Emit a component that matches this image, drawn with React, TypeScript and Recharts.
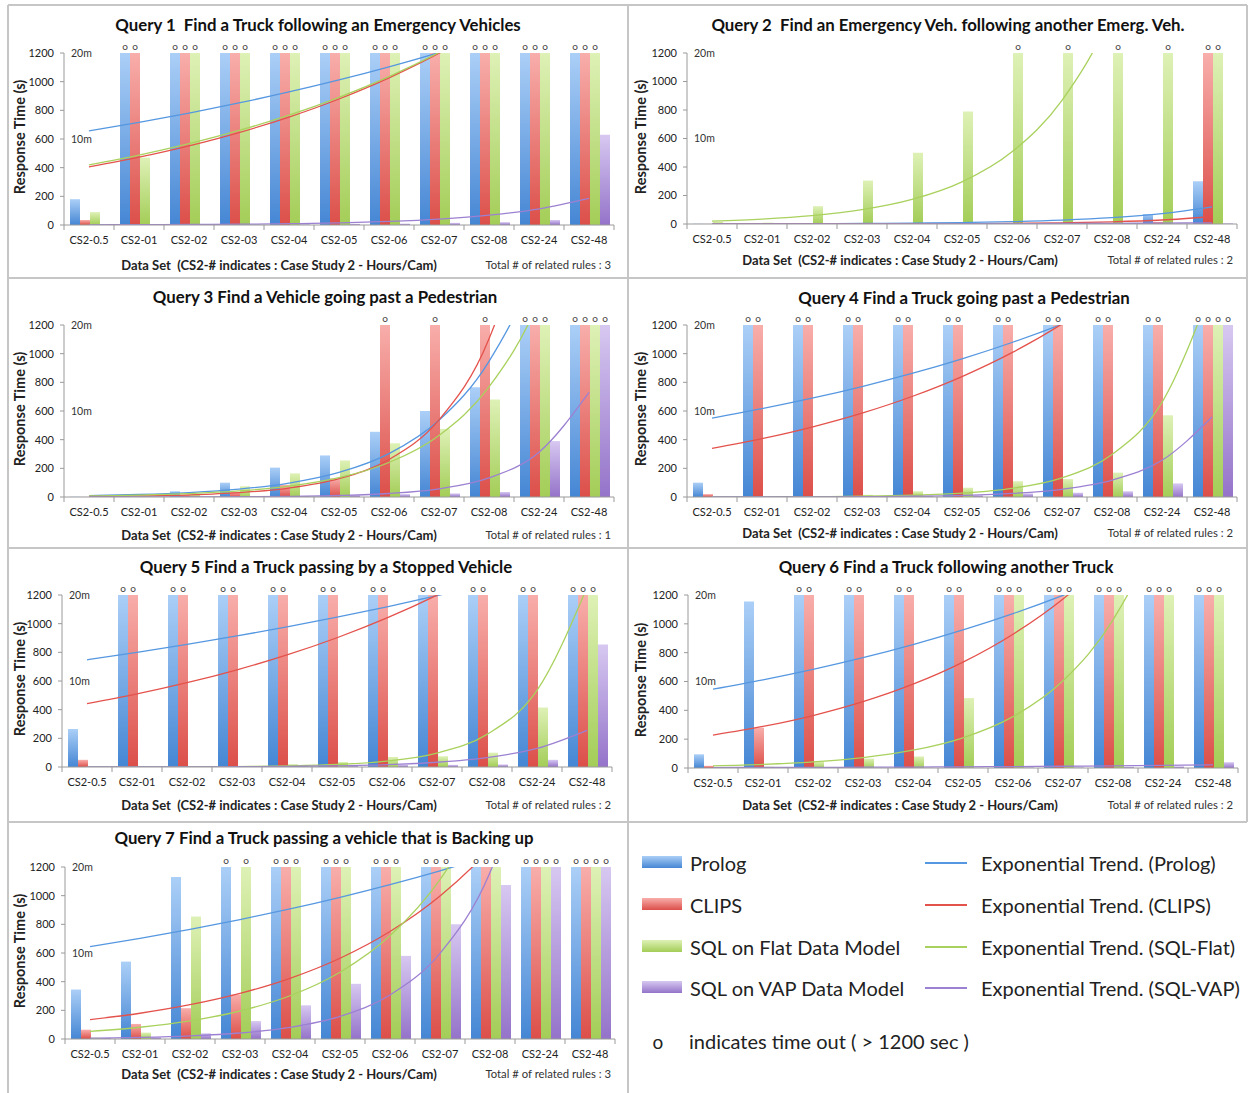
import React from 'react';
import { ComposedChart, Bar, Line, XAxis, YAxis, ReferenceLine, LabelList } from 'recharts';

const FONT = 'Lato, "Open Sans", "DejaVu Sans", sans-serif';
const AXIS = '#9a9a9a';
const TEXT = '#222';

// ---------- data ----------
const CATEGORIES = ['CS2-0.5', 'CS2-01', 'CS2-02', 'CS2-03', 'CS2-04', 'CS2-05', 'CS2-06', 'CS2-07', 'CS2-08', 'CS2-24', 'CS2-48'];
const Y_TICKS = [0, 200, 400, 600, 800, 1000, 1200];
// Runs that hit the time out are plotted at the 1200 s cap and marked with "o".
const T = 1200;

const Q1_PROLOG = [180, T, T, T, T, T, T, T, T, T, T];
const Q1_CLIPS = [35, T, T, T, T, T, T, T, T, T, T];
const Q1_FLAT = [90, 470, T, T, T, T, T, T, T, T, T];
const Q1_VAP = [5, 4, 4, 4, 5, 8, 10, 15, 20, 35, 630];
// Exponential trend: fitted value at CS2-0.5 and at CS2-48 (Prolog, CLIPS, SQL-Flat, SQL-VAP)
const Q1_TREND_START = [657, 405, 420, 1.25];
const Q1_TREND_END = [1559, 1908, 1890, 186];

const Q2_PROLOG = [2, 2, 2, 2, 3, 3, 5, 8, 10, 70, 300];
const Q2_CLIPS = [1, 1, 1, 2, 2, 2, 3, 5, 8, 15, T];
const Q2_FLAT = [15, 10, 125, 305, 500, 790, T, T, T, T, T];
const Q2_VAP = [1, 1, 1, 1, 1, 2, 2, 2, 3, 3, 5];
const Q2_TREND_START = [0.8, 0.13, 20, 0.5];
const Q2_TREND_END = [120, 51, 4370, 8];

const Q3_PROLOG = [2, 8, 40, 100, 205, 290, 455, 600, 765, T, T];
const Q3_CLIPS = [1, 4, 15, 35, 85, 130, T, T, T, T, T];
const Q3_FLAT = [2, 5, 20, 75, 165, 255, 375, 475, 680, T, T];
const Q3_VAP = [1, 2, 3, 5, 8, 12, 20, 25, 35, 390, T];
const Q3_TREND_START = [9.9, 3.5, 7.4, 0.15];
const Q3_TREND_END = [2960, 4650, 2450, 730];

const Q4_PROLOG = [100, T, T, T, T, T, T, T, T, T, T];
const Q4_CLIPS = [20, T, T, T, T, T, T, T, T, T, T];
const Q4_FLAT = [5, 3, 5, 15, 40, 65, 110, 125, 170, 570, T];
const Q4_VAP = [2, 3, 3, 5, 10, 12, 25, 30, 40, 95, T];
const Q4_TREND_START = [551, 340, 0.5, 0.23];
const Q4_TREND_END = [1686, 2077, 1466, 558];

const Q5_PROLOG = [265, T, T, T, T, T, T, T, T, T, T];
const Q5_CLIPS = [50, T, T, T, T, T, T, T, T, T, T];
const Q5_FLAT = [2, 2, 2, 5, 20, 35, 70, 75, 100, 415, T];
const Q5_VAP = [2, 2, 2, 3, 5, 8, 15, 15, 18, 50, 855];
const Q5_TREND_START = [748, 442, 0.25, 0.28];
const Q5_TREND_END = [1461, 1840, 1252, 256];

const Q6_PROLOG = [95, 1155, T, T, T, T, T, T, T, T, T];
const Q6_CLIPS = [15, 280, T, T, T, T, T, T, T, T, T];
const Q6_FLAT = [3, 10, 45, 65, 80, 485, T, T, T, T, T];
const Q6_VAP = [2, 2, 3, 3, 3, 3, 5, 5, 8, 12, 40];
const Q6_TREND_START = [547, 228, 14.8, 3];
const Q6_TREND_END = [1676, 2366, 2966, 22];

const Q7_PROLOG = [345, 540, 1130, T, T, T, T, T, T, T, T];
const Q7_CLIPS = [65, 105, 215, 310, T, T, T, T, T, T, T];
const Q7_FLAT = [10, 45, 855, T, T, T, T, T, T, T, T];
const Q7_VAP = [10, 12, 40, 125, 235, 385, 580, 800, 1075, T, T];
const Q7_TREND_START = [644, 135, 53, 5.7];
const Q7_TREND_END = [1518, 2350, 4100, 4390];

const TITLES = [
  'Query 1  Find a Truck following an Emergency Vehicles',
  'Query 2  Find an Emergency Veh. following another Emerg. Veh.',
  'Query 3 Find a Vehicle going past a Pedestrian',
  'Query 4 Find a Truck going past a Pedestrian',
  'Query 5 Find a Truck passing by a Stopped Vehicle',
  'Query 6 Find a Truck following another Truck',
  'Query 7 Find a Truck passing a vehicle that is Backing up',
];
const RELATED_RULES = [3, 2, 1, 2, 2, 2, 3];

const QUERIES = [
  { values: [Q1_PROLOG, Q1_CLIPS, Q1_FLAT, Q1_VAP], start: Q1_TREND_START, end: Q1_TREND_END },
  { values: [Q2_PROLOG, Q2_CLIPS, Q2_FLAT, Q2_VAP], start: Q2_TREND_START, end: Q2_TREND_END },
  { values: [Q3_PROLOG, Q3_CLIPS, Q3_FLAT, Q3_VAP], start: Q3_TREND_START, end: Q3_TREND_END },
  { values: [Q4_PROLOG, Q4_CLIPS, Q4_FLAT, Q4_VAP], start: Q4_TREND_START, end: Q4_TREND_END },
  { values: [Q5_PROLOG, Q5_CLIPS, Q5_FLAT, Q5_VAP], start: Q5_TREND_START, end: Q5_TREND_END },
  { values: [Q6_PROLOG, Q6_CLIPS, Q6_FLAT, Q6_VAP], start: Q6_TREND_START, end: Q6_TREND_END },
  { values: [Q7_PROLOG, Q7_CLIPS, Q7_FLAT, Q7_VAP], start: Q7_TREND_START, end: Q7_TREND_END },
];

// ---------- styling ----------
const SERIES = [
  { key: 'prolog', name: 'Prolog', top: '#abcff7', bottom: '#4586d4', trend: '#5597e0', trendName: 'Exponential Trend. (Prolog)' },
  { key: 'clips', name: 'CLIPS', top: '#f8aeab', bottom: '#dc4f49', trend: '#e4524c', trendName: 'Exponential Trend. (CLIPS)' },
  { key: 'flat', name: 'SQL on Flat Data Model', top: '#def1b6', bottom: '#a3cd57', trend: '#a9d15d', trendName: 'Exponential Trend. (SQL-Flat)' },
  { key: 'vap', name: 'SQL on VAP Data Model', top: '#d7c8f1', bottom: '#9473c9', trend: '#9c80d2', trendName: 'Exponential Trend. (SQL-VAP)' },
];

const LEFT_COL = { titleX: 318, xTitleX: 279, rulesRight: 611, yLabelX: 20 };
const RIGHT_COL = { titleX: 948, xTitleX: 900, rulesRight: 1233, yLabelX: 641 };

const LAYOUT = [
  { ...LEFT_COL, plotLeft: 64, plotTop: 53, plotBottom: 225, titleY: 25, xTitleY: 265, rulesY: 265 },
  { ...RIGHT_COL, plotLeft: 687, plotTop: 53, plotBottom: 224, titleY: 25, xTitleY: 260, rulesY: 260 },
  { ...LEFT_COL, titleX: 325, plotLeft: 64, plotTop: 325, plotBottom: 497, titleY: 297, xTitleY: 535, rulesY: 535 },
  { ...RIGHT_COL, titleX: 964, plotLeft: 687, plotTop: 325, plotBottom: 497, titleY: 298, xTitleY: 533, rulesY: 533 },
  { ...LEFT_COL, titleX: 326, plotLeft: 62, plotTop: 595, plotBottom: 767, titleY: 567, xTitleY: 805, rulesY: 805 },
  { ...RIGHT_COL, titleX: 946, plotLeft: 688, plotTop: 595, plotBottom: 768, titleY: 567, xTitleY: 805, rulesY: 805 },
  { ...LEFT_COL, titleX: 324, plotLeft: 65, plotTop: 867, plotBottom: 1039, titleY: 838, xTitleY: 1074, rulesY: 1074 },
];

const BAND = 50;
const PLOT_W = BAND * CATEGORIES.length;
const Y_AXIS_W = 60;
const TOP_PAD = 20;
const X_AXIS_H = 30;
const RIGHT_PAD = 6;

// Excel-style exponential trend through the two fitted end values
const trendAt = (start: number, end: number, i: number) =>
  start * Math.pow(end / start, i / (CATEGORIES.length - 1));

const TimeoutMark = (props: any) => {
  const { x, y, width, value } = props;
  if (value == null || Number(value) < T) return null;
  return (
    <text x={Number(x) + Number(width) / 2} y={Number(y) - 3} textAnchor="middle" fontSize={10} fill="#444" fontFamily={FONT}>
      o
    </text>
  );
};

const CategoryTick = (props: any) => {
  const { x, y, payload } = props;
  const isLast = payload.value === CATEGORIES[CATEGORIES.length - 1];
  return (
    <g>
      <line x1={x - BAND / 2} x2={x - BAND / 2} y1={y} y2={y + 5} stroke={AXIS} />
      {isLast && <line x1={x + BAND / 2} x2={x + BAND / 2} y1={y} y2={y + 5} stroke={AXIS} />}
      <text x={x} y={y + 19} textAnchor="middle" fontSize={11} fill={TEXT} fontFamily={FONT}>
        {payload.value}
      </text>
    </g>
  );
};

const abs = (x: number, y: number, extra: React.CSSProperties = {}): React.CSSProperties => ({
  position: 'absolute',
  left: x,
  top: y,
  whiteSpace: 'pre',
  lineHeight: 1,
  fontFamily: FONT,
  color: TEXT,
  ...extra,
});

function QueryPanel({ qi }: { qi: number }) {
  const q = QUERIES[qi];
  const L = LAYOUT[qi];
  const rows = CATEGORIES.map((cat, i) => {
    const row: Record<string, any> = { cat };
    SERIES.forEach((s, si) => {
      row[s.key] = q.values[si][i];
      row['t_' + s.key] = trendAt(q.start[si], q.end[si], i);
    });
    return row;
  });
  const plotH = L.plotBottom - L.plotTop;
  const mLabel = { position: 'insideLeft' as const, offset: 7, fill: '#333', fontSize: 10.5, fontFamily: FONT };

  return (
    <>
      <div style={{ position: 'absolute', left: L.plotLeft - Y_AXIS_W, top: L.plotTop - TOP_PAD }}>
        <ComposedChart
          width={Y_AXIS_W + PLOT_W + RIGHT_PAD}
          height={TOP_PAD + plotH + X_AXIS_H}
          data={rows}
          margin={{ top: TOP_PAD, right: RIGHT_PAD, bottom: 0, left: 0 }}
          barCategoryGap="12%"
          barGap={0}
        >
          <defs>
            {SERIES.map((s) => (
              <linearGradient key={s.key} id={`q${qi}-${s.key}`} x1="0" y1="0" x2="0" y2="1">
                <stop offset="0%" stopColor={s.top} />
                <stop offset="100%" stopColor={s.bottom} />
              </linearGradient>
            ))}
          </defs>
          <XAxis
            dataKey="cat"
            height={X_AXIS_H}
            interval={0}
            tickLine={false}
            tickSize={0}
            tickMargin={0}
            axisLine={{ stroke: AXIS }}
            tick={<CategoryTick />}
          />
          <YAxis
            yAxisId="v"
            width={Y_AXIS_W}
            domain={[0, 1200]}
            ticks={Y_TICKS}
            interval={0}
            tickSize={4}
            tickMargin={6}
            axisLine={{ stroke: AXIS }}
            tickLine={{ stroke: AXIS }}
            tick={{ fontSize: 11, fill: TEXT, fontFamily: FONT }}
          />
          <YAxis yAxisId="trend" orientation="right" width={0} hide domain={[0, 1200]} allowDataOverflow />
          {SERIES.map((s) => (
            <Bar key={s.key} yAxisId="v" dataKey={s.key} fill={`url(#q${qi}-${s.key})`} isAnimationActive={false}>
              <LabelList dataKey={s.key} content={TimeoutMark} />
            </Bar>
          ))}
          {SERIES.map((s) => (
            <Line
              key={'t_' + s.key}
              yAxisId="trend"
              type="monotone"
              dataKey={'t_' + s.key}
              stroke={s.trend}
              strokeWidth={1.3}
              dot={false}
              activeDot={false}
              isAnimationActive={false}
            />
          ))}
          <ReferenceLine yAxisId="v" y={1200} stroke="none" label={{ value: '20m', ...mLabel }} />
          <ReferenceLine yAxisId="v" y={600} stroke="none" label={{ value: '10m', ...mLabel }} />
        </ComposedChart>
      </div>
      <div style={abs(L.titleX, L.titleY, { transform: 'translate(-50%, -50%)', fontSize: 16.8, fontWeight: 700, color: '#111' })}>
        {TITLES[qi]}
      </div>
      <div style={abs(L.xTitleX, L.xTitleY, { transform: 'translate(-50%, -50%)', fontSize: 13, fontWeight: 700 })}>
        {'Data Set  (CS2-# indicates : Case Study 2 - Hours/Cam)'}
      </div>
      <div style={abs(L.rulesRight, L.rulesY, { transform: 'translate(-100%, -50%)', fontSize: 11.3, color: '#333' })}>
        {`Total # of related rules : ${RELATED_RULES[qi]}`}
      </div>
      <div
        style={abs(L.yLabelX, (L.plotTop + L.plotBottom) / 2 - 2, {
          transform: 'translate(-50%, -50%) rotate(-90deg)',
          fontSize: 14.5,
          fontWeight: 700,
        })}
      >
        Response Time (s)
      </div>
    </>
  );
}

const BORDER = '#c6c6c6';
const hLine = (x1: number, x2: number, y: number) => (
  <div key={`h${y}`} style={{ position: 'absolute', left: x1, top: y - 1, width: x2 - x1, height: 2, background: BORDER }} />
);
const vLine = (x: number, y1: number, y2: number) => (
  <div key={`v${x}`} style={{ position: 'absolute', left: x - 1, top: y1, width: 2, height: y2 - y1, background: BORDER }} />
);

function LegendPanel() {
  const rowsY = [862, 904, 946, 987];
  return (
    <>
      {SERIES.map((s, i) => (
        <React.Fragment key={s.key}>
          <div
            style={{
              position: 'absolute',
              left: 642,
              top: rowsY[i] - 6,
              width: 40,
              height: 12,
              background: `linear-gradient(to bottom, ${s.top}, ${s.bottom})`,
            }}
          />
          <div style={abs(690, rowsY[i] + 1, { transform: 'translateY(-50%)', fontSize: 20 })}>{s.name}</div>
          <div style={{ position: 'absolute', left: 925, top: rowsY[i], width: 42, height: 2, background: s.trend }} />
          <div style={abs(981, rowsY[i] + 1, { transform: 'translateY(-50%)', fontSize: 20 })}>{s.trendName}</div>
        </React.Fragment>
      ))}
      <div style={abs(658, 1041, { transform: 'translate(-50%, -50%)', fontSize: 19 })}>o</div>
      <div style={abs(689, 1041, { transform: 'translateY(-50%)', fontSize: 20 })}>{'indicates time out ( > 1200 sec )'}</div>
    </>
  );
}

export default function App() {
  return (
    <div style={{ position: 'absolute', left: 0, top: 0, width: 1251, height: 1093, background: '#fff', overflow: 'hidden' }}>
      {hLine(8, 1247, 5)}
      {hLine(8, 1247, 278)}
      {hLine(8, 1247, 548)}
      {hLine(8, 1247, 822)}
      {vLine(8, 5, 1093)}
      {vLine(628, 5, 1093)}
      {vLine(1247, 5, 822)}
      {QUERIES.map((_, qi) => (
        <QueryPanel key={qi} qi={qi} />
      ))}
      <LegendPanel />
    </div>
  );
}
